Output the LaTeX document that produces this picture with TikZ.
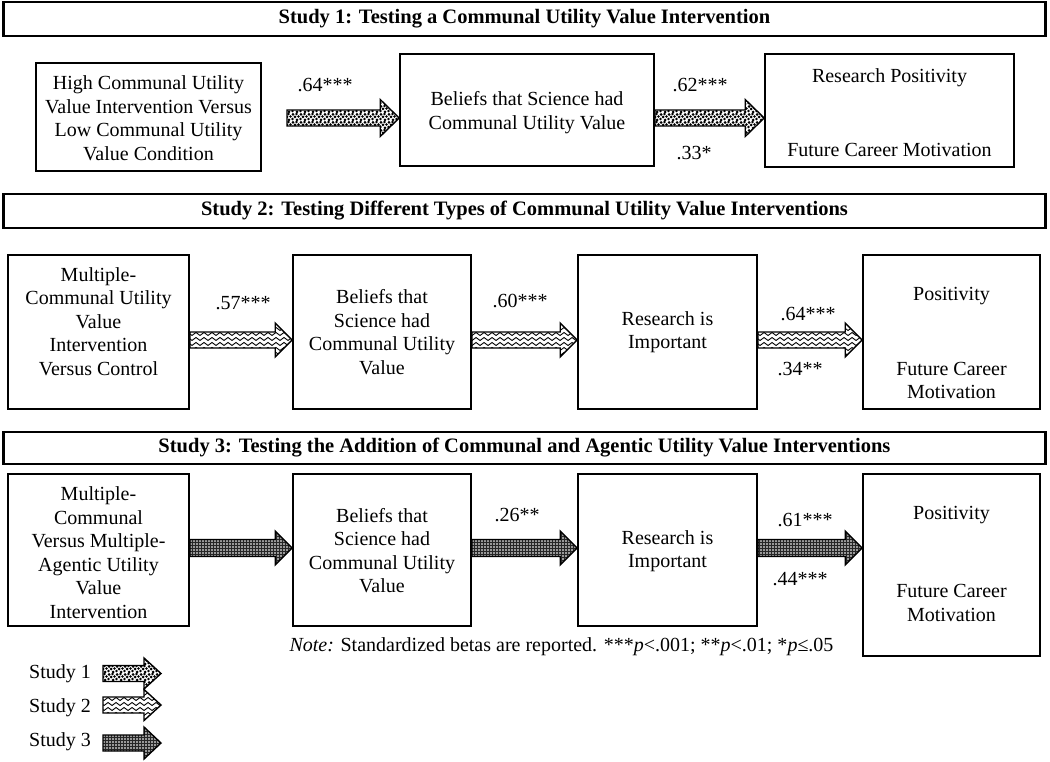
\documentclass[tikz,border=0pt]{standalone}
\usepackage{fontspec}
\setmainfont{Liberation Serif}
\usetikzlibrary{patterns,calc}

\pgfdeclarepatternformonly{confetti}{\pgfpoint{-2pt}{-2pt}}{\pgfpoint{10pt}{10pt}}{\pgfpoint{8pt}{8pt}}{%
  \pgfpathcircle{\pgfpoint{1pt}{1pt}}{1.5pt}%
  \pgfpathcircle{\pgfpoint{4.5pt}{2pt}}{1.4pt}%
  \pgfpathcircle{\pgfpoint{7pt}{4pt}}{1.5pt}%
  \pgfpathcircle{\pgfpoint{2.5pt}{4.5pt}}{1.4pt}%
  \pgfpathcircle{\pgfpoint{5pt}{6.5pt}}{1.5pt}%
  \pgfpathcircle{\pgfpoint{0.5pt}{7pt}}{1.3pt}%
  \pgfusepath{fill}}

\pgfdeclarepatternformonly{zigzag}{\pgfpoint{0pt}{-1pt}}{\pgfpoint{8pt}{6pt}}{\pgfpoint{8pt}{5pt}}{%
  \pgfsetlinewidth{0.9pt}%
  \pgfpathmoveto{\pgfpoint{0pt}{0.5pt}}%
  \pgfpathlineto{\pgfpoint{4pt}{3.5pt}}%
  \pgfpathlineto{\pgfpoint{8pt}{0.5pt}}%
  \pgfusepath{stroke}}

\pgfdeclarepatternformonly{finegrid}{\pgfpoint{-0.5pt}{-0.5pt}}{\pgfpoint{3.5pt}{3.5pt}}{\pgfpoint{3pt}{3pt}}{%
  \pgfsetlinewidth{0.8pt}%
  \pgfpathmoveto{\pgfpoint{0pt}{0pt}}\pgfpathlineto{\pgfpoint{3pt}{0pt}}%
  \pgfpathmoveto{\pgfpoint{0pt}{0pt}}\pgfpathlineto{\pgfpoint{0pt}{3pt}}%
  \pgfusepath{stroke}}

% #1 style, #2 from, #3 to, #4 shaft half height, #5 head half height, #6 head length
\newcommand\blockarrow[6]{%
  \draw[arrowline,#1] let \p1=(#2), \p2=(#3) in
    (\x1,\y1+#4) -- (\x2-#6,\y1+#4) -- (\x2-#6,\y1+#5) -- (\x2,\y1)
    -- (\x2-#6,\y1-#5) -- (\x2-#6,\y1-#4) -- (\x1,\y1-#4) -- cycle;}

\begin{document}
\begin{tikzpicture}[x=1pt,y=-1pt,
  every node/.style={font=\fontsize{20}{23.5}\selectfont},
  box/.style={draw, line width=1.6pt, inner sep=0pt},
  titlebox/.style={draw, line width=2.6pt, inner sep=0pt, minimum width=1042pt},
  titletext/.style={font=\bfseries\fontsize{20.5}{24}\selectfont, inner sep=0pt},
  txt/.style={align=center, inner sep=0pt},
  lab/.style={inner sep=0pt},
  arrowline/.style={line width=1.4pt, line join=miter},
  s1/.style={pattern=confetti},
  s2/.style={pattern=zigzag},
  s3/.style={preaction={fill=black!40}, pattern=finegrid, pattern color=black!85}
]
\useasboundingbox (0,0) rectangle (1050,761);

% ---------- Study 1 ----------
\node[titlebox, minimum height=34pt] (t1) at (524.5,19) {};
\node[titletext] (t1t) at (524.5,19) {Study 1: Testing a Communal Utility Value Intervention};

\node[box, minimum width=225pt, minimum height=108pt] (a1) at (148.5,117) {};
\node[box, minimum width=254pt, minimum height=112pt] (b1) at (527,110) {};
\node[box, minimum width=249pt, minimum height=113pt] (c1) at (889.5,110.5) {};

\node[txt] (a1t) at (148.5,118) {High Communal Utility\\Value Intervention Versus\\Low Communal Utility\\Value Condition};
\node[txt] (b1t) at (527,112.5) {Beliefs that Science had\\Communal Utility Value};
\node[txt] (c1t1) at (889.5,78) {Research Positivity};
\node[txt] (c1t2) at (889.5,150) {Future Career Motivation};

\coordinate (s1a) at (287,118);
\blockarrow{s1}{s1a}{b1.west |- s1a}{8pt}{18.5pt}{19pt}
\coordinate (s1b) at (b1.east |- 0,118);
\blockarrow{s1}{s1b}{c1.west |- s1b}{8pt}{18.5pt}{19pt}

\node[lab] (l11) at (325,85) {.64***};
\node[lab] (l12) at (700,85) {.62***};
\node[lab] (l13) at (694,153) {.33*};

% ---------- Study 2 ----------
\node[titlebox, minimum height=34pt] (t2) at (524.5,211) {};
\node[titletext] (t2t) at (524.5,211) {Study 2: Testing Different Types of Communal Utility Value Interventions};

\node[box, minimum width=181pt, minimum height=154pt] (a2) at (98.5,332) {};
\node[box, minimum width=178pt, minimum height=154pt] (b2) at (382,332) {};
\node[box, minimum width=179pt, minimum height=154pt] (c2) at (667.5,332) {};
\node[box, minimum width=177pt, minimum height=154pt] (d2) at (951.5,332) {};

\node[txt] (a2t) at (98.5,321.5) {Multiple-\\Communal Utility\\Value\\Intervention\\Versus Control};
\node[txt] (b2t) at (382,332) {Beliefs that\\Science had\\Communal Utility\\Value};
\node[txt] (c2t) at (667.5,332) {Research is\\Important};
\node[txt] (d2t1) at (951.5,296.5) {Positivity};
\node[txt] (d2t2) at (951.5,380.5) {Future Career\\Motivation};

\coordinate (s2a) at (a2.east |- 0,340);
\blockarrow{s2}{s2a}{b2.west |- s2a}{8pt}{17pt}{17pt}
\coordinate (s2b) at (b2.east |- 0,340);
\blockarrow{s2}{s2b}{c2.west |- s2b}{8pt}{17pt}{17pt}
\coordinate (s2c) at (c2.east |- 0,340);
\blockarrow{s2}{s2c}{d2.west |- s2c}{8pt}{17pt}{17pt}

\node[lab] (l21) at (243,303) {.57***};
\node[lab] (l22) at (520,301) {.60***};
\node[lab] (l23) at (808,314) {.64***};
\node[lab] (l24) at (800,369) {.34**};

% ---------- Study 3 ----------
\node[titlebox, minimum height=32pt] (t3) at (524.5,448) {};
\node[titletext] (t3t) at (524.5,448) {Study 3: Testing the Addition of Communal and Agentic Utility Value Interventions};

\node[box, minimum width=181pt, minimum height=152pt] (a3) at (98.5,550) {};
\node[box, minimum width=178pt, minimum height=152pt] (b3) at (382,550) {};
\node[box, minimum width=179pt, minimum height=152pt] (c3) at (667.5,550) {};
\node[box, minimum width=177pt, minimum height=182pt] (d3) at (951.5,565) {};

\node[txt] (a3t) at (98.5,552.5) {Multiple-\\Communal\\Versus Multiple-\\Agentic Utility\\Value\\Intervention};
\node[txt] (b3t) at (382,550.5) {Beliefs that\\Science had\\Communal Utility\\Value};
\node[txt] (c3t) at (667.5,551) {Research is\\Important};
\node[txt] (d3t1) at (951.5,515.5) {Positivity};
\node[txt] (d3t2) at (951.5,603) {Future Career\\Motivation};

\coordinate (s3a) at (a3.east |- 0,548);
\blockarrow{s3}{s3a}{b3.west |- s3a}{8.5pt}{17pt}{17pt}
\coordinate (s3b) at (b3.east |- 0,548);
\blockarrow{s3}{s3b}{c3.west |- s3b}{8.5pt}{17pt}{17pt}
\coordinate (s3c) at (c3.east |- 0,548);
\blockarrow{s3}{s3c}{d3.west |- s3c}{8.5pt}{17pt}{17pt}

\node[lab] (l31) at (517,515) {.26**};
\node[lab] (l32) at (805,520) {.61***};
\node[lab] (l33) at (800,579) {.44***};

% ---------- Note ----------
\node[lab] (note) at (561.5,647) {\textit{Note:} Standardized betas are reported. ***\textit{p}<.001; **\textit{p}<.01; *\textit{p}≤.05};

% ---------- Legend ----------
\node[lab] (g1) at (60,674) {Study 1};
\node[lab] (g2) at (60,708) {Study 2};
\node[lab] (g3) at (60,742) {Study 3};
\coordinate (g1a) at (103,673.5);
\coordinate (g1b) at (161,673.5);
\blockarrow{s1}{g1a}{g1b}{8pt}{15.5pt}{17pt}
\coordinate (g2a) at (103,705);
\coordinate (g2b) at (161,705);
\blockarrow{s2}{g2a}{g2b}{8pt}{15.5pt}{17pt}
\coordinate (g3a) at (103,743);
\coordinate (g3b) at (161,743);
\blockarrow{s3}{g3a}{g3b}{8pt}{16pt}{17pt}
\end{tikzpicture}
\end{document}
